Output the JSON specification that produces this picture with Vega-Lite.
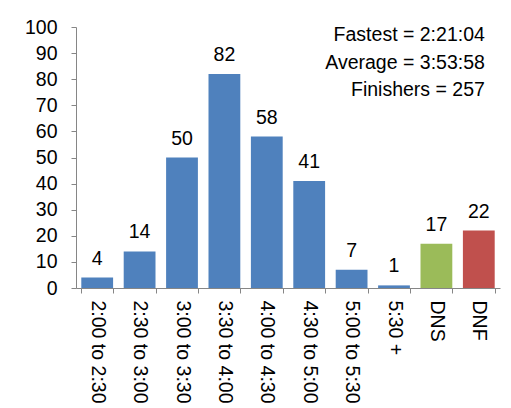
{
  "$schema": "https://vega.github.io/schema/vega-lite/v6.json",
  "width": 424,
  "height": 261,
  "autosize": {"type": "none"},
  "padding": {"left": 76, "top": 27, "right": 11, "bottom": 120},
  "background": "white",
  "config": {
    "view": {"stroke": null},
    "font": "Liberation Sans",
    "axis": {"grid": false, "domainColor": "#868686", "tickColor": "#868686", "labelColor": "#000000", "labelFont": "Liberation Sans", "labelFontSize": 19.5, "labelOverlap": false}
  },
  "data": {
    "values": [
      {"cat": "2:00 to 2:30", "n": 4, "grp": "finish"},
      {"cat": "2:30 to 3:00", "n": 14, "grp": "finish"},
      {"cat": "3:00 to 3:30", "n": 50, "grp": "finish"},
      {"cat": "3:30 to 4:00", "n": 82, "grp": "finish"},
      {"cat": "4:00 to 4:30", "n": 58, "grp": "finish"},
      {"cat": "4:30 to 5:00", "n": 41, "grp": "finish"},
      {"cat": "5:00 to 5:30", "n": 7, "grp": "finish"},
      {"cat": "5:30 +", "n": 1, "grp": "finish"},
      {"cat": "DNS", "n": 17, "grp": "dns"},
      {"cat": "DNF", "n": 22, "grp": "dnf"}
    ]
  },
  "encoding": {
    "x": {
      "field": "cat", "type": "nominal", "sort": null,
      "scale": {"paddingInner": 0.25, "paddingOuter": 0.125},
      "axis": {"title": null, "labelAngle": 90, "labelAlign": "left", "labelBaseline": "middle", "tickBand": "extent", "tickSize": 5, "labelPadding": 7}
    },
    "y": {
      "field": "n", "type": "quantitative",
      "scale": {"domain": [0, 100], "nice": false},
      "axis": {"title": null, "values": [0,10,20,30,40,50,60,70,80,90,100], "labelOverlap": false, "tickSize": 5, "labelPadding": 14}
    }
  },
  "layer": [
    {
      "mark": {"type": "bar"},
      "encoding": {
        "color": {
          "field": "grp", "type": "nominal",
          "scale": {"domain": ["finish", "dns", "dnf"], "range": ["#4F81BD", "#9BBB59", "#C0504D"]},
          "legend": null
        }
      }
    },
    {
      "mark": {"type": "text", "baseline": "bottom", "dy": -9, "fontSize": 19.5, "font": "Liberation Sans", "color": "#000000"},
      "encoding": {
        "text": {"field": "n", "type": "quantitative"}
      }
    },
    {
      "data": {
        "values": [
          {"note": "Fastest = 2:21:04", "n": 96.9},
          {"note": "Average = 3:53:58", "n": 86.2},
          {"note": "Finishers = 257", "n": 75.9}
        ]
      },
      "mark": {"type": "text", "align": "right", "baseline": "middle", "fontSize": 19.5, "font": "Liberation Sans", "color": "#000000"},
      "encoding": {
        "x": {"datum": "DNF", "bandPosition": 0.69},
        "text": {"field": "note"}
      }
    }
  ]
}
